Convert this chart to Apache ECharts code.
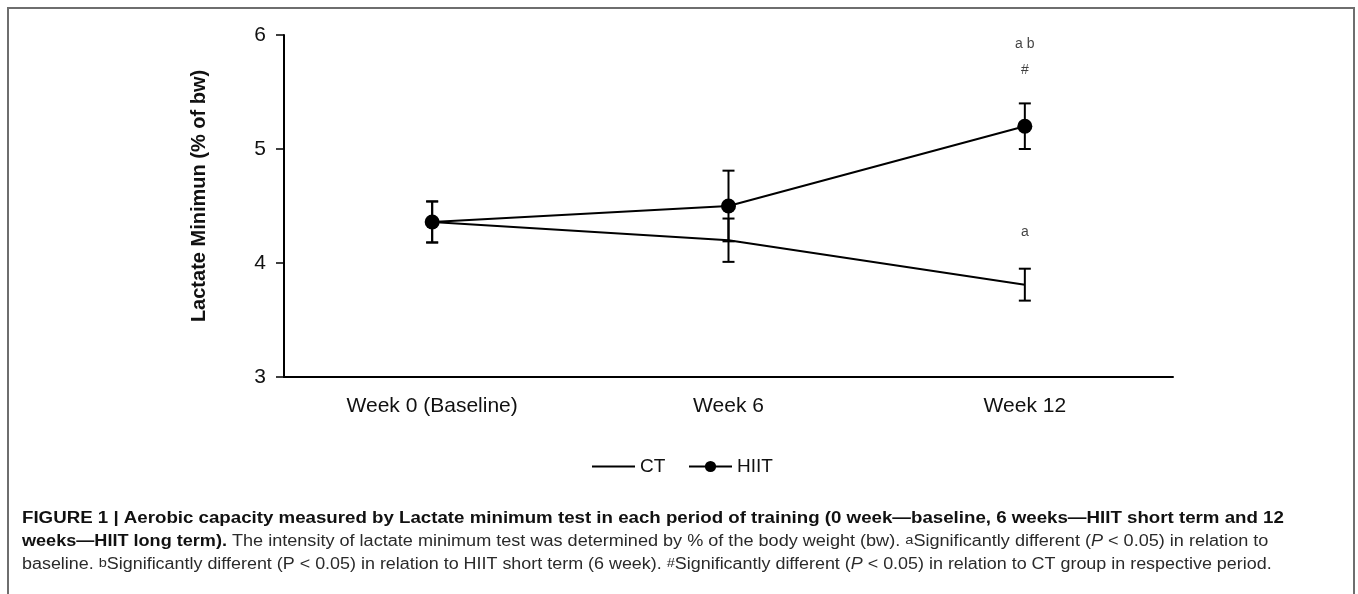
<!DOCTYPE html>
<html><head><meta charset="utf-8">
<script src="https://cdn.jsdelivr.net/npm/echarts@6/dist/echarts.min.js"></script>
<style>html,body{margin:0;padding:0;background:#fff}#c{width:1358px;height:594px}</style>
</head><body><div id="c"></div>
<script>
const categories = ['Week 0 (Baseline)', 'Week 6', 'Week 12'];
const ctMean = [4.36, 4.20, 3.81];
const ctErr = [0.18, 0.19, 0.14];
const hiitMean = [4.36, 4.50, 5.20];
const hiitErr = [0.18, 0.31, 0.20];
const yTicks = [3, 4, 5, 6];
const annotations = [['Week 12', 5.92, 'a b'], ['Week 12', 5.69, '#'], ['Week 12', 4.27, 'a']];
const captionLines = [
  '{b|FIGURE 1 | Aerobic capacity measured by Lactate minimum test in each period of training (0 week\u2014baseline, 6 weeks\u2014HIIT short term and 12}',
  '{b|weeks\u2014HIIT long term).} The intensity of lactate minimum test was determined by % of the body weight (bw). {sup|a}Significantly different ({i|P} < 0.05) in relation to',
  'baseline. {sup|b}Significantly different (P < 0.05) in relation to HIIT short term (6 week). {sup|#}Significantly different ({i|P} < 0.05) in relation to CT group in respective period.'
];
const captionScale = [1.168, 1.13, 1.12];

const font = '"Liberation Sans", Arial, Helvetica, sans-serif';
const errData = (means, errs) => means.map((m, i) => [i, m - errs[i], m + errs[i]]);

function renderErr(params, api) {
  const x = api.value(0);
  const lo = api.coord([x, api.value(1)]);
  const hi = api.coord([x, api.value(2)]);
  const hw = 6;
  const st = { stroke: '#000', lineWidth: 2 };
  return {
    type: 'group',
    children: [
      { type: 'line', shape: { x1: lo[0], y1: lo[1], x2: hi[0], y2: hi[1] }, style: st },
      { type: 'line', shape: { x1: lo[0] - hw, y1: lo[1], x2: lo[0] + hw, y2: lo[1] }, style: st },
      { type: 'line', shape: { x1: hi[0] - hw, y1: hi[1], x2: hi[0] + hw, y2: hi[1] }, style: st }
    ]
  };
}

const chart = echarts.init(document.getElementById('c'), null, { renderer: 'canvas' });
chart.setOption({
  animation: false,
  backgroundColor: '#fff',
  textStyle: { fontFamily: font },
  grid: { left: 284, top: 35, right: 185, bottom: 217, containLabel: false },
  legend: [
    { top: 452, left: 587, itemWidth: 43, itemHeight: 2, icon: 'rect',
      textStyle: { fontSize: 19, color: '#111', fontFamily: font },
      data: ['CT'] },
    { top: 452, left: 683, itemWidth: 43, itemHeight: 14,
      textStyle: { fontSize: 19, color: '#111', fontFamily: font },
      data: ['HIIT'] }
  ],
  xAxis: {
    type: 'category', data: categories,
    axisLine: { lineStyle: { color: '#000', width: 2 } },
    axisTick: { show: false },
    axisLabel: { fontSize: 21, color: '#111', margin: 19, fontFamily: font }
  },
  yAxis: {
    type: 'value', min: yTicks[0], max: yTicks[yTicks.length - 1], interval: 1,
    name: 'Lactate Minimun (% of bw)', nameLocation: 'middle', nameRotate: 90, nameGap: 75,
    nameTextStyle: { fontSize: 20, fontWeight: 'bold', color: '#111', fontFamily: font, padding: [0, 0, 0, 20] },
    axisLine: { show: true, lineStyle: { color: '#000', width: 2 } },
    axisTick: { show: true, length: 8, lineStyle: { color: '#000', width: 1.5 } },
    axisLabel: { fontSize: 21, color: '#111', margin: 18, fontFamily: font },
    splitLine: { show: false }
  },
  series: [
    { name: 'CT', type: 'line', data: ctMean, symbol: 'none', color: '#000',
      lineStyle: { color: '#000', width: 2 }, z: 3 },
    { name: 'HIIT', type: 'line', data: hiitMean, symbol: 'circle', symbolSize: 15, color: '#000',
      itemStyle: { color: '#000' }, lineStyle: { color: '#000', width: 2 }, z: 4 },
    { name: 'CT err', type: 'custom', data: errData(ctMean, ctErr), renderItem: renderErr, z: 2 },
    { name: 'HIIT err', type: 'custom', data: errData(hiitMean, hiitErr), renderItem: renderErr, z: 2 },
    { name: 'notes', type: 'scatter', symbolSize: 0, silent: true,
      data: annotations.map(a => ({ value: [a[0], a[1]], text: a[2] })),
      label: { show: true, position: 'inside', fontSize: 14, color: '#111', fontFamily: font,
        formatter: p => p.data.text } }
  ],
  graphic: [
    { type: 'rect', silent: true, shape: { x: 8, y: 8, width: 1346, height: 620 },
      style: { fill: 'none', stroke: '#6e6e6e', lineWidth: 2 } },
    ...captionLines.map((t, i) => ({
      type: 'text', x: 22, y: 511 + i * 23, scaleX: captionScale[i], silent: true,
      style: {
        text: t, fontSize: 16, fill: '#2a2a2a', fontFamily: font,
        rich: {
          b: { fontWeight: 'bold', fontSize: 16, fill: '#111', fontFamily: font },
          i: { fontStyle: 'italic', fontSize: 16, fill: '#2a2a2a', fontFamily: font },
          sup: { fontSize: 13, verticalAlign: 'top', fill: '#2a2a2a', fontFamily: font }
        }
      }
    }))
  ]
});
</script></body></html>
